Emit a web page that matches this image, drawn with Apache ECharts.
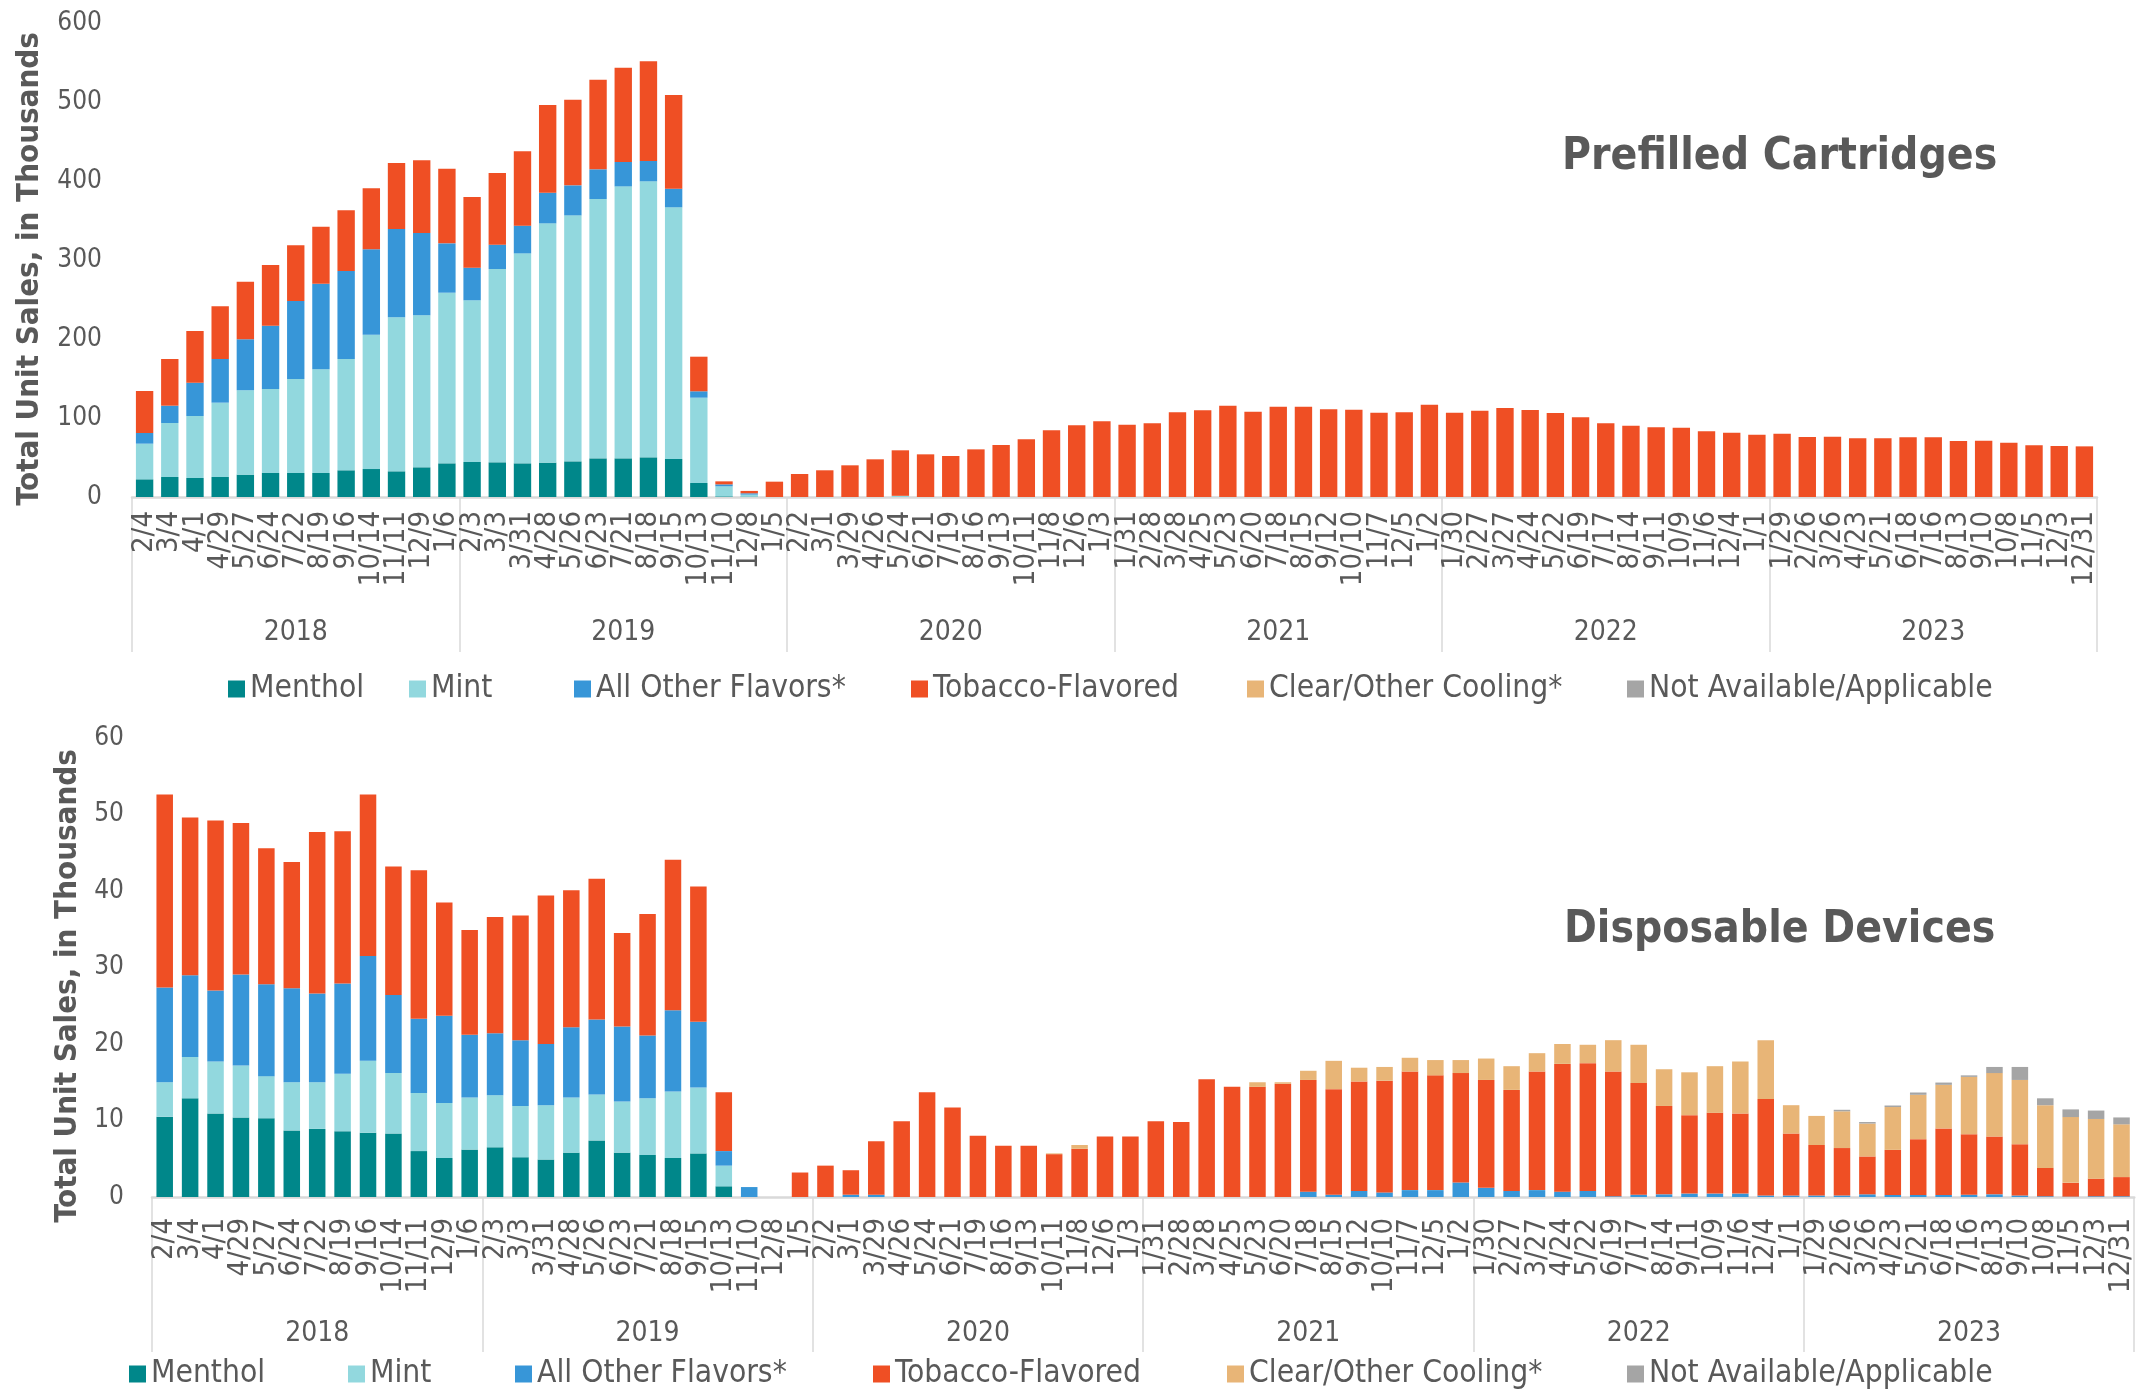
<!DOCTYPE html>
<html>
<head>
<meta charset="utf-8">
<script src="https://cdn.jsdelivr.net/npm/echarts@6/dist/echarts.min.js"></script>
<style>
html,body{margin:0;padding:0;background:#fff;}
#chart{width:2136px;height:1392px;}
</style>
</head>
<body>
<div id="chart"></div>
<script>
// ---- Category labels (4-week periods ending) ----
const dates = [
  '2/4','3/4','4/1','4/29','5/27','6/24','7/22','8/19','9/16','10/14','11/11','12/9','1/6',
  '2/3','3/3','3/31','4/28','5/26','6/23','7/21','8/18','9/15','10/13','11/10','12/8','1/5',
  '2/2','3/1','3/29','4/26','5/24','6/21','7/19','8/16','9/13','10/11','11/8','12/6','1/3',
  '1/31','2/28','3/28','4/25','5/23','6/20','7/18','8/15','9/12','10/10','11/7','12/5','1/2',
  '1/30','2/27','3/27','4/24','5/22','6/19','7/17','8/14','9/11','10/9','11/6','12/4','1/1',
  '1/29','2/26','3/26','4/23','5/21','6/18','7/16','8/13','9/10','10/8','11/5','12/3','12/31'
];
const years = ['2018','2019','2020','2021','2022','2023'];
const seriesNames = ['Menthol','Mint','All Other Flavors*','Tobacco-Flavored','Clear/Other Cooling*','Not Available/Applicable'];

// ---- Prefilled Cartridges (thousands) ----
const cartMenthol = [22.4,25.3,24.1,25.3,28.3,30.4,30.4,30.4,33.8,35.4,32.5,37.6,42.6,
  44.3,43.9,42.6,43.5,45.1,48.9,48.9,50.2,48.1,17.7,0.8,0.5,0,
  0,0,0,0,0,0,0,0,0,0,0,0,0,
  0,0,0,0,0,0,0,0,0,0,0,0,0,
  0,0,0,0,0,0,0,0,0,0,0,0,0,
  0,0,0,0,0,0,0,0,0,0,0,0,0];
const cartMint = [45.1,68.4,78.4,94.1,106.7,106.3,119.0,131.2,140.9,170.1,194.9,192.4,216.0,
  204.7,244.7,265.8,302.9,311.4,328.3,344.3,349.4,318.6,108.0,12.7,2.5,0,
  0,0,0,0,1.5,0,0,0,0,0,0,0,0,
  0,0,0,0,0,0,0,0,0,0,0,0,0,
  0,0,0,0,0,0,0,0,0,0,0,0,0,
  0,0,0,0,0,0,0,0,0,0,0,0,0];
const cartOther = [13.5,21.9,42.2,55.3,64.6,80.2,98.7,108.4,111.4,108.0,111.8,104.2,62.5,
  41.3,30.8,35.1,38.8,38.0,37.6,30.9,25.7,23.6,8.1,2.5,1.7,0,
  0,0,0,0,0,0,0,0,0,0,0,0,0,
  0,0,0,0,0,0,0,0,0,0,0,0,0,
  0,0,0,0,0,0,0,0,0,0,0,0,0,
  0,0,0,0,0,0,0,0,0,0,0,0,0];
const cartTobacco = [53.2,59.1,65.4,66.7,73.0,76.8,70.5,72.2,76.8,77.2,83.6,92.0,94.5,
  89.4,90.7,94.1,111.0,108.5,113.5,119.4,126.2,118.6,43.8,3.8,3.0,19.4,
  29.1,33.8,40.1,47.7,57.6,54.0,51.9,60.3,65.8,73.0,84.4,90.7,95.8,
  91.6,93.2,107.2,109.7,115.6,108.0,114.3,114.3,111.0,110.5,106.8,107.2,116.9,
  106.8,109.3,112.7,110.1,106.3,100.8,93.2,90.3,88.2,87.8,83.1,81.4,78.9,
  80.2,75.9,76.4,74.3,74.3,75.5,75.5,70.9,71.3,68.8,65.4,64.6,64.1];
const cartClear = [0,0,0,0,0,0,0,0,0,0,0,0,0,
  0,0,0,0,0,0,0,0,0,0,0,0,0,
  0,0,0,0,0,0,0,0,0,0,0,0,0,
  0,0,0,0,0,0,0,0,0,0,0,0,0,
  0,0,0,0,0,0,0,0,0,0,0,0,0,
  0,0,0,0,0,0,0,0,0,0,0,0,0];
const cartNA = [0,0,0,0,0,0,0,0,0,0,0,0,0,
  0,0,0,0,0,0,0,0,0,0,0,0,0,
  0,0,0,0,0,0,0,0,0,0,0,0,0,
  0,0,0,0,0,0,0,0,0,0,0,0,0,
  0,0,0,0,0,0,0,0,0,0,0,0,0,
  0,0,0,0,0,0,0,0,0,0,0,0,0];

// ---- Disposable Devices (thousands) ----
const dispMenthol = [10.5,12.9,10.9,10.4,10.3,8.7,8.9,8.6,8.4,8.3,6.0,5.1,6.2,
  6.5,5.2,4.9,5.8,7.4,5.8,5.5,5.1,5.7,1.4,0,0,0,
  0,0,0,0,0,0,0,0,0,0,0,0,0,
  0,0,0,0,0,0,0,0,0,0,0,0,0,
  0,0,0,0,0,0,0,0,0,0,0,0,0,
  0,0,0,0,0,0,0,0,0,0,0,0,0];
const dispMint = [4.5,5.4,6.8,6.8,5.5,6.3,6.1,7.5,9.4,7.9,7.6,7.2,6.8,
  6.8,6.7,7.1,7.2,6.0,6.7,7.4,8.7,8.6,2.7,0,0,0,
  0,0,0,0,0,0,0,0,0,0,0,0,0,
  0,0,0,0,0,0,0,0,0,0,0,0,0,
  0,0,0,0,0,0,0,0,0,0,0,0,0,
  0,0,0,0,0,0,0,0,0,0,0,0,0];
const dispOther = [12.4,10.7,9.3,11.9,12.0,12.3,11.6,11.8,13.7,10.2,9.7,11.4,8.2,
  8.1,8.6,8.0,9.2,9.8,9.8,8.2,10.6,8.6,1.9,1.3,0,0,
  0,0.3,0.3,0,0,0,0,0,0,0,0,0,0,
  0,0,0,0,0,0,0.7,0.3,0.8,0.6,0.9,0.9,1.9,
  1.2,0.8,0.9,0.7,0.8,0.1,0.3,0.35,0.45,0.45,0.45,0.2,0.2,
  0.2,0.2,0.35,0.26,0.26,0.26,0.3,0.35,0.2,0.1,0.05,0.1,0.1];
const dispTobacco = [25.2,20.6,22.2,19.8,17.8,16.5,21.1,19.9,21.1,16.8,19.4,14.8,13.7,
  15.2,16.3,19.4,17.9,18.4,12.2,15.9,19.7,17.7,7.7,0,0,3.2,
  4.1,3.2,7.0,9.9,13.7,11.7,8.0,6.7,6.7,5.6,6.3,7.9,7.9,
  9.9,9.8,15.4,14.4,14.4,14.8,14.6,13.8,14.3,14.6,15.5,15.0,14.3,
  14.1,13.2,15.5,16.7,16.7,16.3,14.6,11.55,10.25,10.55,10.45,12.6,8.1,
  6.6,6.2,4.95,5.9,7.3,8.7,7.9,7.55,6.7,3.7,1.8,2.3,2.5];
const dispClear = [0,0,0,0,0,0,0,0,0,0,0,0,0,
  0,0,0,0,0,0,0,0,0,0,0,0,0,
  0,0,0,0,0,0,0,0,0,0.1,0.5,0,0,
  0,0,0,0,0.6,0.2,1.2,3.7,1.8,1.8,1.8,2.0,1.7,
  2.8,3.1,2.4,2.6,2.4,4.1,5.0,4.8,5.6,6.1,6.8,7.7,3.7,
  3.8,4.8,4.3,5.6,5.8,5.7,7.5,8.3,8.4,8.2,8.6,7.8,6.9];
const dispNA = [0,0,0,0,0,0,0,0,0,0,0,0,0,
  0,0,0,0,0,0,0,0,0,0,0,0,0,
  0,0,0,0,0,0,0,0,0,0,0,0,0,
  0,0,0,0,0,0,0,0,0,0,0,0,0,
  0,0,0,0,0,0,0,0,0,0,0,0,0,
  0,0.2,0.2,0.2,0.3,0.3,0.2,0.8,1.7,0.9,1.0,1.1,0.9];

const colors = ['#00878a','#92d8de','#3796d8','#ef4f24','#e8b577','#a5a5a5'];
const F = "'DejaVu Sans Condensed', 'DejaVu Sans', sans-serif";
const TXT = '#595959';

const cartData = [cartMenthol, cartMint, cartOther, cartTobacco, cartClear, cartNA];
const dispData = [dispMenthol, dispMint, dispOther, dispTobacco, dispClear, dispNA];

const series = [];
seriesNames.forEach((n, i) => {
  series.push({name: n, type: 'bar', stack: 'cart', xAxisIndex: 0, yAxisIndex: 0,
    data: cartData[i], barWidth: '69%', itemStyle: {color: colors[i]}});
});
seriesNames.forEach((n, i) => {
  series.push({name: n, type: 'bar', stack: 'disp', xAxisIndex: 2, yAxisIndex: 1,
    data: dispData[i], barWidth: '65%', itemStyle: {color: colors[i]}});
});

function dateAxis(gi, margin) {
  return {type: 'category', gridIndex: gi, data: dates, position: 'bottom',
    axisLine: {show: true, lineStyle: {color: '#d9d9d9', width: 2.5}},
    axisTick: {show: false},
    axisLabel: {interval: 0, rotate: 90, margin: margin, fontSize: 29, color: TXT, fontFamily: F}};
}
function yearAxis(gi, margin) {
  return {type: 'category', gridIndex: gi, data: years, position: 'bottom',
    axisLine: {show: false},
    axisTick: {show: true, length: 155, interval: 0, lineStyle: {color: '#d9d9d9', width: 1.5}},
    axisLabel: {interval: 0, margin: margin, fontSize: 28, color: TXT, fontFamily: F}};
}
function valAxis(gi, max, interval, margin) {
  return {type: 'value', gridIndex: gi, min: 0, max: max, interval: interval,
    axisLine: {show: false}, axisTick: {show: false}, splitLine: {show: false},
    axisLabel: {margin: margin, fontSize: 26, color: TXT, fontFamily: F}};
}

const legendTop = [228, 409, 574, 911, 1247, 1627];
const legendBot = [129, 348, 515, 873, 1227, 1627];
const legends = [];
seriesNames.forEach((n, i) => {
  legends.push({data: [n], left: legendTop[i], top: 673, padding: 0, icon: 'rect',
    itemWidth: 17, itemHeight: 17, textStyle: {fontSize: 31.5, color: TXT, fontFamily: F}});
  legends.push({data: [n], left: legendBot[i], top: 1358, padding: 0, icon: 'rect',
    itemWidth: 17, itemHeight: 17, textStyle: {fontSize: 31.5, color: TXT, fontFamily: F}});
});

const option = {
  backgroundColor: '#ffffff',
  animation: false,
  title: [
    {text: 'Prefilled Cartridges', left: 1557, top: 131,
     textStyle: {fontSize: 44, fontWeight: 'bold', color: TXT, fontFamily: F}},
    {text: 'Disposable Devices', left: 1559, top: 904,
     textStyle: {fontSize: 44, fontWeight: 'bold', color: TXT, fontFamily: F}}
  ],
  legend: legends,
  grid: [
    {left: 132, top: 23, width: 1965, height: 474, containLabel: false},
    {left: 152, top: 738, width: 1986, height: 459, containLabel: false}
  ],
  xAxis: [dateAxis(0, 14), yearAxis(0, 122), dateAxis(1, 21), yearAxis(1, 123)],
  yAxis: [valAxis(0, 600, 100, 30), valAxis(1, 60, 10, 28)],
  graphic: [
    {type: 'text', x: 30, y: 269, rotation: Math.PI / 2,
     style: {text: 'Total Unit Sales, in Thousands', fill: TXT, align: 'center', verticalAlign: 'middle',
       font: "bold 31px 'DejaVu Sans Condensed', 'DejaVu Sans', sans-serif"}},
    {type: 'text', x: 68, y: 986, rotation: Math.PI / 2,
     style: {text: 'Total Unit Sales, in Thousands', fill: TXT, align: 'center', verticalAlign: 'middle',
       font: "bold 31px 'DejaVu Sans Condensed', 'DejaVu Sans', sans-serif"}}
  ],
  series: series
};

const chart = echarts.init(document.getElementById('chart'), null, {renderer: 'canvas', width: 2136, height: 1392});
chart.setOption(option);
</script>
</body>
</html>
